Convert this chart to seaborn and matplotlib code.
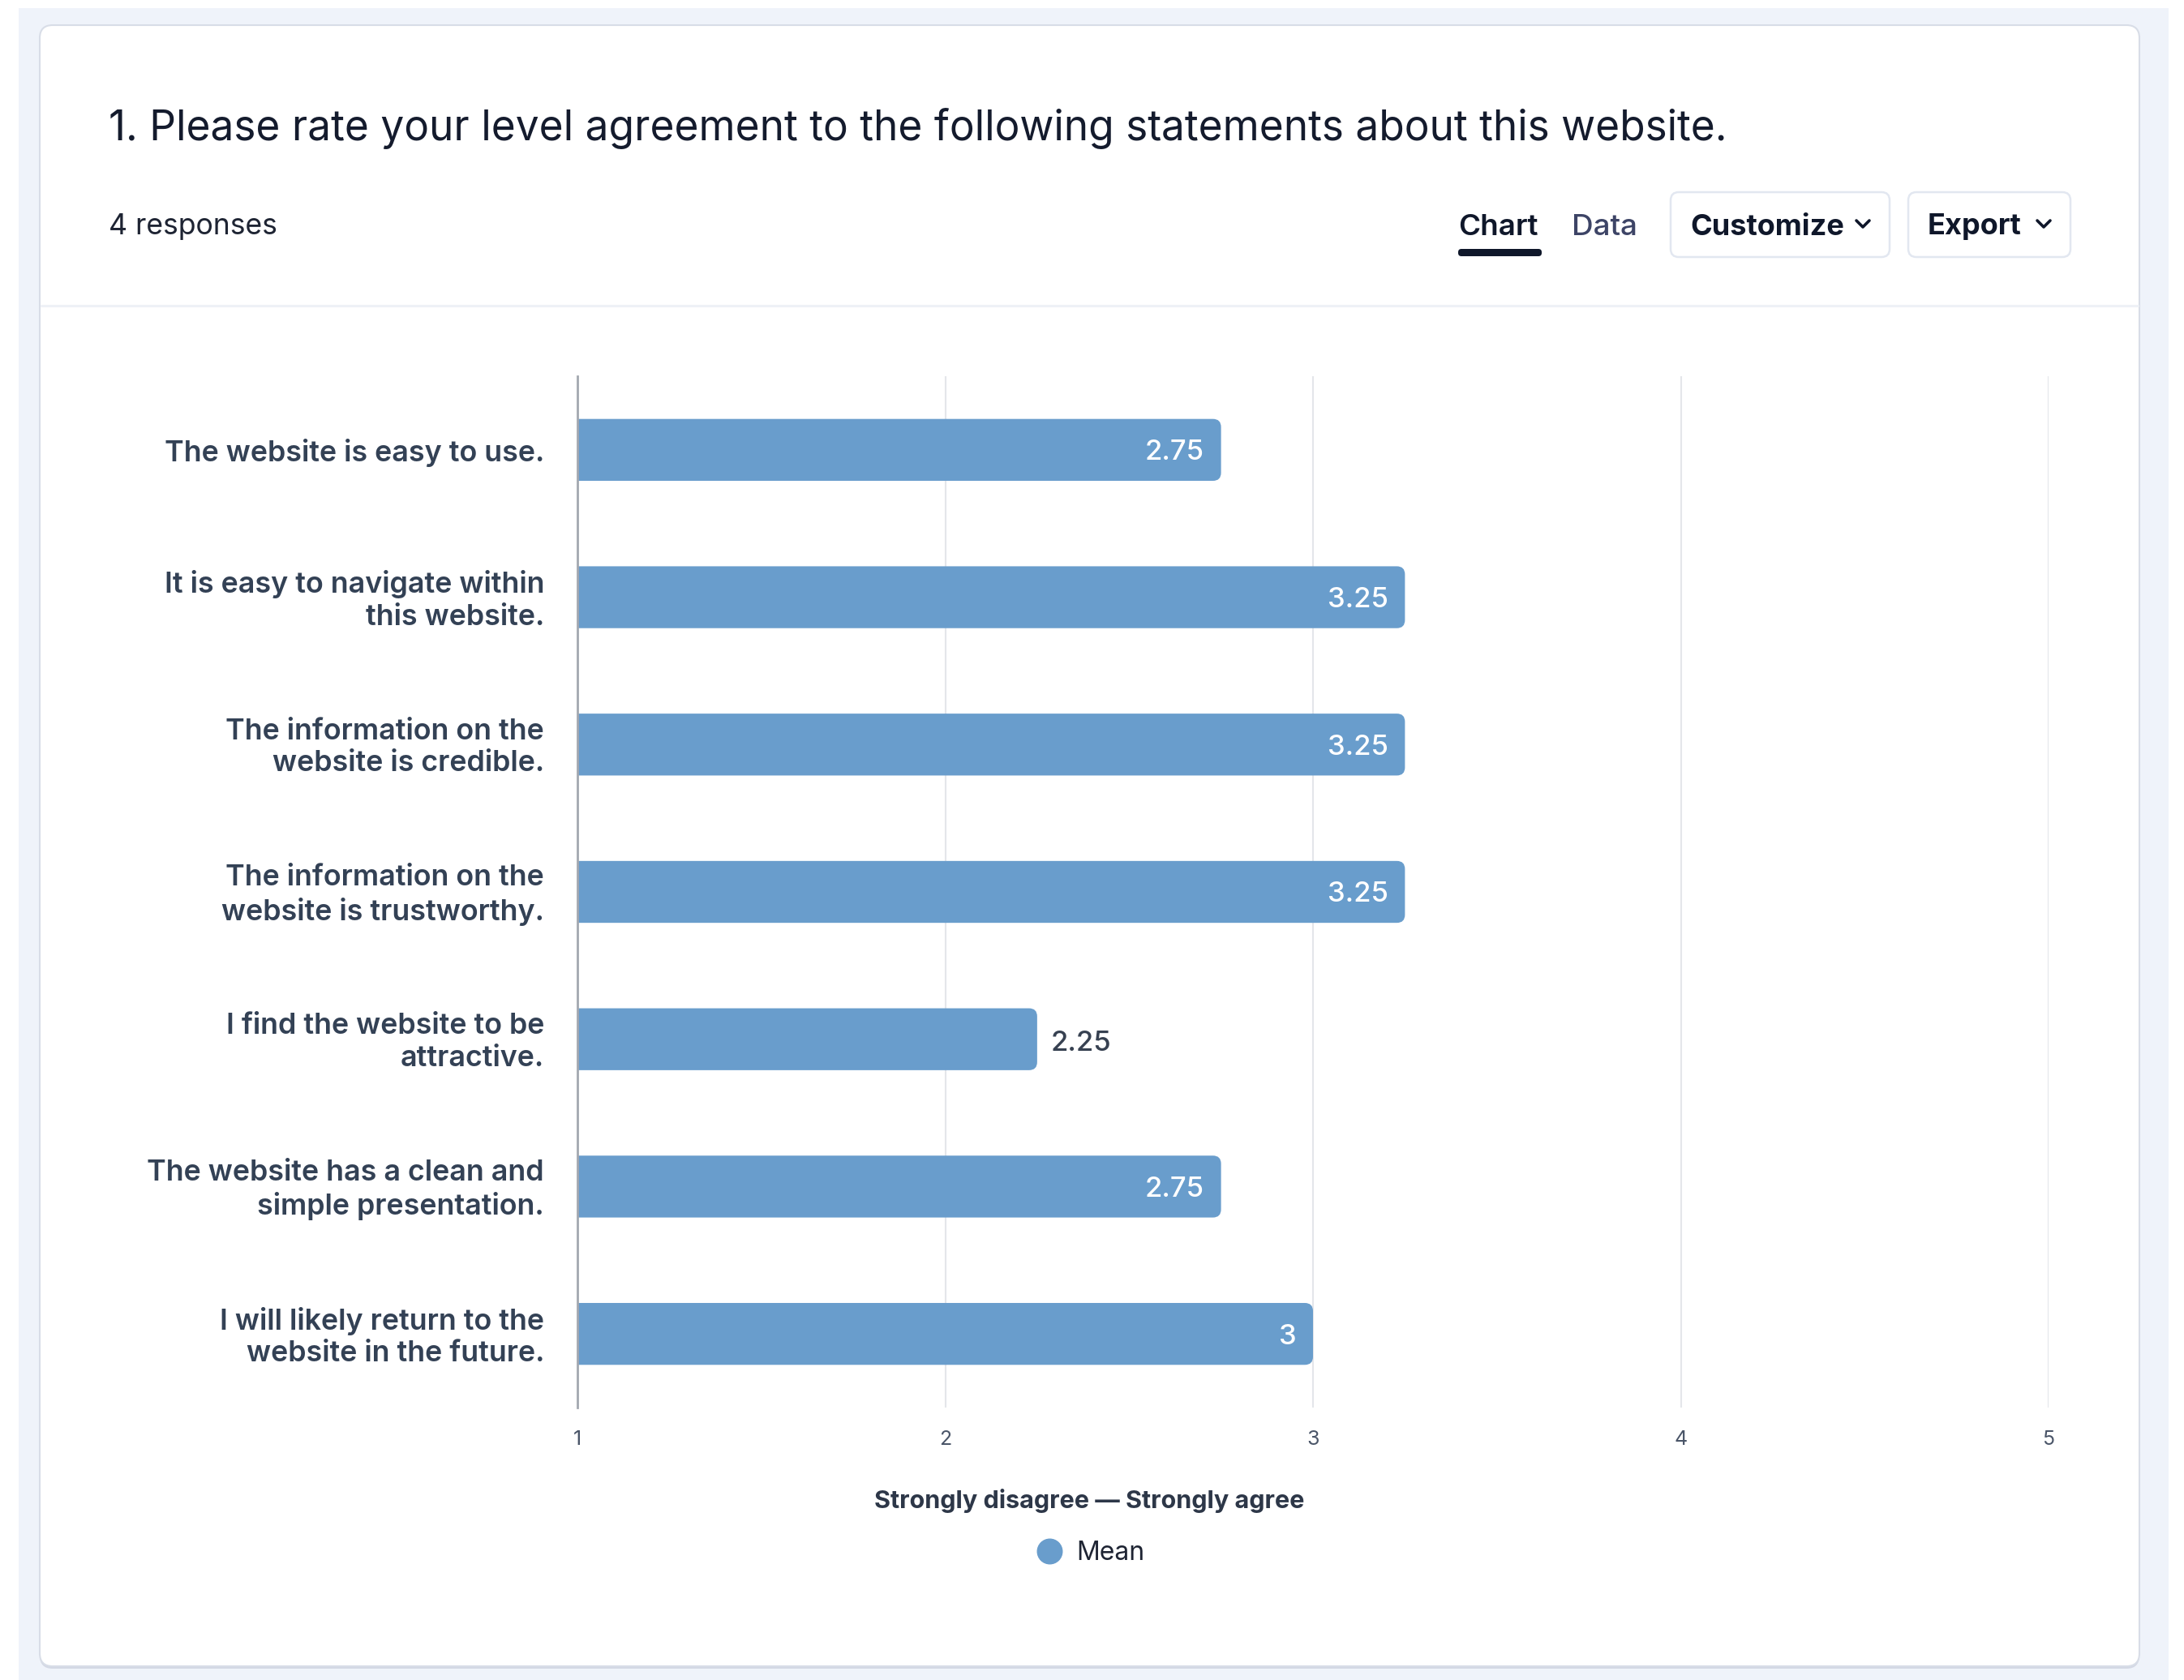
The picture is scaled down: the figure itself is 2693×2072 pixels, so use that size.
import matplotlib
matplotlib.use("Agg")
import matplotlib.pyplot as plt
from matplotlib.patches import FancyBboxPatch, Rectangle
from matplotlib.lines import Line2D
from matplotlib.transforms import Affine2D, ScaledTranslation
import seaborn as sns

# ---- data ----
statements = [
    "The website is easy to use.",
    "It is easy to navigate within\nthis website.",
    "The information on the\nwebsite is credible.",
    "The information on the\nwebsite is trustworthy.",
    "I find the website to be\nattractive.",
    "The website has a clean and\nsimple presentation.",
    "I will likely return to the\nwebsite in the future.",
]
mean_scores = [2.75, 3.25, 3.25, 3.25, 2.25, 2.75, 3.0]
scale_ticks = [1, 2, 3, 4, 5]
scale_title = "Strongly disagree \u2014 Strongly agree"
series_name = "Mean"
question = "1. Please rate your level agreement to the following statements about this website."
response_note = "4 responses"

# ---- style ----
W, H = 2693, 2072
BAR = "#699DCC"
INK = "#141B2D"
LABEL = "#334155"
FONT = ["Inter", "DejaVu Sans"]

sns.set_theme(style="white")
plt.rcParams["font.family"] = FONT

fig = plt.figure(figsize=(W / 100, H / 100), dpi=100)
fig.patch.set_facecolor("white")

# pixel coordinates, origin at top-left
px = Affine2D().scale(1 / W, -1 / H).translate(0, 1) + fig.transFigure

# page background and card
fig.patches.append(Rectangle((23, 10), 2651, 2062, transform=px, facecolor="#EFF3FA",
                             edgecolor="none", zorder=0))
fig.patches.append(FancyBboxPatch((49, 34), 2589, 2024, boxstyle="round,pad=0,rounding_size=16",
                                  transform=px, facecolor="#D3D8E4", edgecolor="none", zorder=0.5))
fig.patches.append(FancyBboxPatch((49, 31), 2589, 2024, boxstyle="round,pad=0,rounding_size=16",
                                  transform=px, facecolor="white", edgecolor="#D8DDE7",
                                  linewidth=1.5, zorder=1))
fig.lines.append(Line2D([51, 2636], [377, 377], transform=px, color="#EEF1F6", linewidth=2.2, zorder=2))

# header
fig.text(134, 159, question, transform=px, fontsize=37, color=INK, va="center", ha="left", zorder=3)
fig.text(134, 280, response_note, transform=px, fontsize=25.6, color="#1E2433", va="center", ha="left", zorder=3)
fig.text(1798, 280, "Chart", transform=px, fontsize=26.5, fontweight="semibold", color="#0F172A",
         va="center", ha="left", zorder=3)
fig.patches.append(FancyBboxPatch((1798, 307), 103, 9, boxstyle="round,pad=0,rounding_size=4",
                                  transform=px, facecolor="#0F172A", edgecolor="none", zorder=3))
fig.text(1938, 280, "Data", transform=px, fontsize=26.5, fontweight="medium", color="#3D4466",
         va="center", ha="left", zorder=3)

for (bx, bw, label, chev) in [(2060, 270, "Customize", 2297), (2353, 200, "Export", 2520)]:
    fig.patches.append(FancyBboxPatch((bx, 237), bw, 80, boxstyle="round,pad=0,rounding_size=10",
                                      transform=px, facecolor="white", edgecolor="#E2E7F0",
                                      linewidth=1.8, zorder=3))
    fig.text(bx + 24, 280, label, transform=px, fontsize=26, fontweight="bold", color="#0F172A",
             va="center", ha="left", zorder=4)
    fig.lines.append(Line2D([chev - 8, chev, chev + 8], [272, 280, 272], transform=px,
                            color="#0F172A", linewidth=2.6, solid_capstyle="round",
                            solid_joinstyle="round", zorder=4))

# chart area
ax = fig.add_axes([712 / W, 1 - 1736 / H, (2526 - 712) / W, (1736 - 464) / H])
ax.set_facecolor("none")
ax.set_zorder(5)

sns.barplot(x=mean_scores, y=statements, orient="h", color=BAR, saturation=1,
            width=0.42, ax=ax, zorder=3)

# give each bar a rounded end
x_px = (2526 - 712) / 4
y_px = (1736 - 464) / 7
radius = 10 / x_px
for bar in list(ax.patches):
    x0, y0, w, h = bar.get_x(), bar.get_y(), bar.get_width(), bar.get_height()
    bar.remove()
    ax.add_patch(FancyBboxPatch((x0, y0), w, h,
                                boxstyle=f"round,pad=0,rounding_size={radius}",
                                mutation_aspect=x_px / y_px, facecolor=BAR,
                                edgecolor="none", zorder=3))

ax.set_xlim(1, 5)
ax.set_ylim(6.5, -0.5)
ax.set_xticks(scale_ticks)
ax.set_xticklabels([str(t) for t in scale_ticks])
ax.grid(axis="x", color="#E4E6EA", linewidth=1.5, zorder=0)
ax.grid(axis="y", visible=False)
for side in ["top", "right", "bottom"]:
    ax.spines[side].set_visible(False)
ax.spines["left"].set_color("#A3A8B0")
ax.spines["left"].set_linewidth(2.0)
ax.spines["left"].set_zorder(4)
ax.tick_params(axis="x", length=0, pad=20, labelsize=18, labelcolor="#4A5568")
ax.tick_params(axis="y", length=0, pad=29.5, labelsize=25.8, labelcolor=LABEL)
lift = ScaledTranslation(0, 3 / 100, fig.dpi_scale_trans)
for t in ax.get_yticklabels():
    t.set_fontweight("semibold")
    t.set_linespacing(1.25)
    t.set_multialignment("right")
    if "\n" in t.get_text():
        t.set_transform(t.get_transform() + lift)
ax.set_xlabel("")
ax.set_ylabel("")

# value labels
for i, v in enumerate(mean_scores):
    text = f"{v:g}"
    if v > 2.5:
        ax.annotate(text, xy=(v, i), xytext=(-15, -2.5), textcoords="offset points",
                    ha="right", va="center", fontsize=25, fontweight="medium",
                    color="white", zorder=6)
    else:
        ax.annotate(text, xy=(v, i), xytext=(12.2, -3.5), textcoords="offset points",
                    ha="left", va="center", fontsize=25, fontweight="medium",
                    color="#374151", zorder=6)

# axis title and legend
fig.text(1343, 1851, scale_title, transform=px, fontsize=22, fontweight="bold",
         color="#2D3748", ha="center", va="center", zorder=6)
handle = Line2D([], [], marker="o", linestyle="", markersize=22, color=BAR)
fig.legend([handle], [series_name], loc="center", bbox_to_anchor=(1345 / W, 1 - 1916 / H),
           frameon=False, fontsize=23, handletextpad=0.55, handlelength=1.0,
           labelcolor="#1E2433")

fig.savefig("out.png", dpi=100)
